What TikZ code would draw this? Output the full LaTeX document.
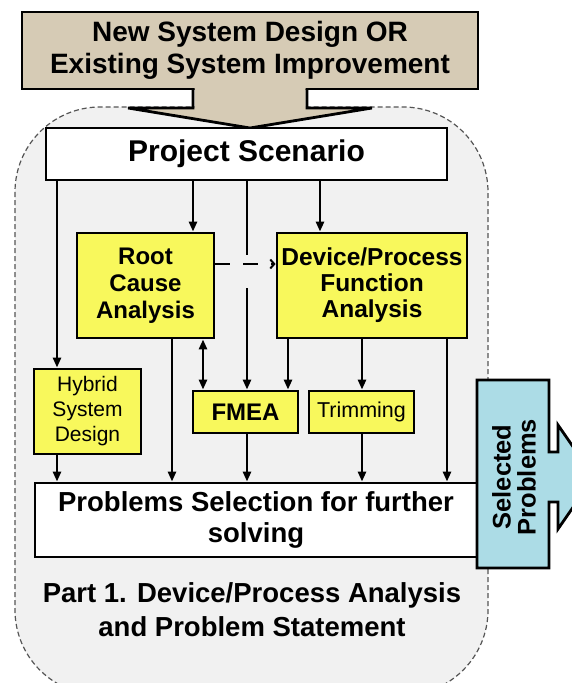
\documentclass[tikz,border=0pt]{standalone}
\usepackage{fontspec}
\setmainfont{Liberation Sans}
\usetikzlibrary{arrows.meta}

\definecolor{beige}{HTML}{D6CBB5}
\definecolor{panel}{HTML}{F1F1F1}
\definecolor{boxyellow}{HTML}{F8F85C}
\definecolor{selcyan}{HTML}{ACDCE6}
\definecolor{dashgray}{HTML}{555555}

\begin{document}
\begin{tikzpicture}[x=1pt,y=-1pt,
  box/.style={draw=black, line width=2.8pt, inner sep=0pt, align=center},
  ybox/.style={box, fill=boxyellow},
  wbox/.style={box, fill=white},
  plain/.style={line width=2.6pt},
  link/.style={plain, -{Triangle[length=10pt,width=8pt]}},
  twoway/.style={plain, {Triangle[length=10pt,width=8pt]}-{Triangle[length=10pt,width=8pt]}},
  weak/.style={line width=2.8pt, dash pattern=on 15pt off 13pt,
               -{Straight Barb[length=4pt,width=9pt,line width=2pt]}},
  bigbold/.style={font=\fontsize{28}{32}\selectfont\bfseries},
  midbold/.style={font=\fontsize{24}{27}\selectfont\bfseries},
  smallreg/.style={font=\fontsize{21}{25}\selectfont},
]
\useasboundingbox (0,0) rectangle (572,683);
\clip (0,0) rectangle (572,683);
\fill[white] (0,0) rectangle (572,683);

% dashed panel of part 1
\draw[dashgray, line width=1.2pt, dash pattern=on 5pt off 3pt, fill=panel,
      rounded corners=85pt] (15,107) rectangle (488,695);

% input box with its broad arrow
\node[box, fill=beige, minimum width=456pt, minimum height=77pt, bigbold] (src) at (250,50.5)
  {New System Design OR\\Existing System Improvement};
\fill[beige] (194.5,87) -- (194.5,108) -- (128,108) -- (250,128) -- (372,108) -- (305.5,108) -- (305.5,87) -- cycle;
\draw[line width=2.8pt, line join=miter] (193,89) -- (193,108) -- (128,108) -- (250,128)
  -- (372,108) -- (307,108) -- (307,89);

% main nodes
\node[wbox, minimum width=401pt, minimum height=52pt,
      font=\fontsize{30}{34}\selectfont\bfseries] (ps) at (246.5,154) {Project Scenario};
\node[ybox, minimum width=137pt, minimum height=105pt, midbold] (rca) at (145.5,285.5)
  {Root\\Cause\\Analysis};
\node[ybox, minimum width=190pt, minimum height=105pt,
      font=\fontsize{24.5}{26}\selectfont\bfseries] (dev) at (372,285.5)
  {Device/Process\\Function\\Analysis};
\node[ybox, minimum width=107pt, minimum height=85pt, smallreg] (hyb) at (87.5,411.5)
  {Hybrid\\System\\Design};
\node[ybox, minimum width=105pt, minimum height=42pt, midbold] (fmea) at (245.5,412) {FMEA};
\node[ybox, minimum width=105pt, minimum height=42pt,
      font=\fontsize{21.5}{25}\selectfont] (trim) at (361.5,412) {Trimming};
\node[wbox, minimum width=442pt, minimum height=74pt,
      font=\fontsize{27.5}{31}\selectfont\bfseries] (sel) at (256,520)
  {Problems Selection for further\\solving};
\node[align=center, inner sep=0pt, font=\fontsize{27.5}{34}\selectfont\bfseries] (part) at (252,610)
  {Part 1. Device/Process Analysis\\and Problem Statement};

% output arrow with the selected problems
\draw[fill=selcyan, line width=2.8pt, line join=miter]
  (477,380) -- (549,380) -- (549,452) -- (558,452) -- (558,425) -- (594,477)
  -- (558,529) -- (558,502) -- (549,502) -- (549,568) -- (477,568) -- cycle;
\node[rotate=90, align=center, inner sep=0pt, font=\fontsize{25.5}{25}\selectfont\bfseries] (out)
  at (514,477) {Selected\\Problems};

% vertical guides for the connectors
\coordinate (g57) at (57,0);
\coordinate (g172) at (172,0);
\coordinate (g193) at (193,0);
\coordinate (g203) at (203,0);
\coordinate (g247) at (247,0);
\coordinate (g288) at (288,0);
\coordinate (g320) at (320,0);
\coordinate (g362) at (362,0);
\coordinate (g447) at (447,0);
\coordinate (h264) at (0,264);
% where the line to FMEA is broken to let the dashed link pass
\coordinate (gapa) at (247,255);
\coordinate (gapb) at (247,288);

% connectors
\draw[link] (ps.south -| g57) -- (hyb.north -| g57);
\draw[link] (ps.south -| g193) -- (rca.north -| g193);
\draw[plain] (ps.south -| g247) -- (gapa);
\draw[link] (gapb) -- (fmea.north -| g247);
\draw[link] (ps.south -| g320) -- (dev.north -| g320);
\draw[link] (rca.south -| g172) -- (sel.north -| g172);
\draw[twoway] (rca.south -| g203) -- (fmea.north -| g203);
\draw[link] (dev.south -| g288) -- (fmea.north -| g288);
\draw[link] (dev.south -| g362) -- (trim.north -| g362);
\draw[link] (dev.south -| g447) -- (sel.north -| g447);
\draw[link] (hyb.south -| g57) -- (sel.north -| g57);
\draw[link] (fmea.south -| g247) -- (sel.north -| g247);
\draw[link] (trim.south -| g362) -- (sel.north -| g362);
\draw[weak] (rca.east |- h264) -- (dev.west |- h264);
\end{tikzpicture}
\end{document}
